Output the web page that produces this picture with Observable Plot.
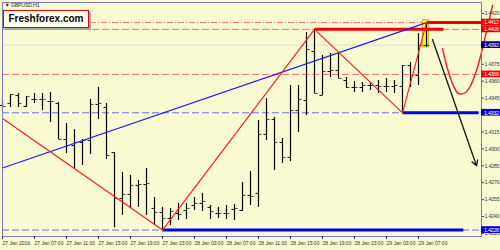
<!DOCTYPE html>
<html><head><meta charset="utf-8">
<script src="https://cdn.jsdelivr.net/npm/d3@7"></script>
<script src="https://cdn.jsdelivr.net/npm/@observablehq/plot@0.6"></script>
<style>
body{margin:0;background:#fafad2;}
#wrap{position:relative;width:500px;height:250px;overflow:hidden;}
#wrap svg{position:absolute;left:0;top:0;}
#wrap svg g[aria-label="y-axis tick label"] text, #wrap svg g[aria-label="text"] text{letter-spacing:-0.35px;}
#logo{position:absolute;z-index:2;left:3px;top:10px;width:84px;height:16px;border:1.5px solid #e00000;background:#fffff0;box-shadow:2px 2px 0 #a8a8a0;font:bold 10px "Liberation Sans",Arial,sans-serif;color:#000;line-height:16px;text-align:center;}
</style></head>
<body><div id="wrap"><div id="logo">Freshforex.com</div></div>
<script>
// Hourly OHLC bars of GBPUSD H1, first bar = 27 Jan 2016 03:00
const barOpen = [1.43385,1.43402,1.43473,1.43376,1.43438,1.43438,1.43420,1.43402,1.43083,1.43030,1.43057,1.43074,1.43394,1.43367,1.42968,1.42560,1.42596,1.42676,1.42684,1.42472,1.42436,1.42383,1.42427,1.42454,1.42498,1.42516,1.42481,1.42427,1.42427,1.42463,1.42454,1.42587,1.42605,1.43128,1.43261,1.43057,1.42924,1.43340,1.43429,1.43863,1.43473,1.43686,1.43695,1.43606,1.43544,1.43544,1.43562,1.43562,1.43553,1.43553,1.43553,1.43739,1.43651,1.43917];
const barHigh = [1.43438,1.43482,1.43491,1.43465,1.43491,1.43491,1.43500,1.43411,1.43225,1.43172,1.43083,1.43438,1.43544,1.43402,1.42968,1.42791,1.42764,1.42720,1.42826,1.42569,1.42481,1.42472,1.42516,1.42516,1.42569,1.42605,1.42498,1.42481,1.42498,1.42507,1.42702,1.42800,1.43252,1.43447,1.43278,1.43092,1.43562,1.43562,1.44032,1.44060,1.43828,1.43846,1.43855,1.43633,1.43598,1.43589,1.43589,1.43606,1.43624,1.43606,1.43739,1.43766,1.44023,1.44120];
const barLow = [1.43367,1.43367,1.43367,1.43367,1.43402,1.43340,1.43234,1.43083,1.42959,1.42826,1.42853,1.42950,1.43261,1.42906,1.42300,1.42410,1.42472,1.42481,1.42410,1.42321,1.42280,1.42321,1.42365,1.42374,1.42454,1.42445,1.42374,1.42383,1.42374,1.42365,1.42445,1.42498,1.42481,1.43074,1.42809,1.42871,1.42888,1.43145,1.43296,1.43491,1.43473,1.43633,1.43624,1.43535,1.43500,1.43500,1.43518,1.43491,1.43500,1.43491,1.43320,1.43544,1.43562,1.43900];
const barClose = [1.43376,1.43482,1.43402,1.43465,1.43438,1.43438,1.43420,1.43083,1.43030,1.43057,1.43074,1.43394,1.43402,1.42941,1.42560,1.42596,1.42676,1.42684,1.42693,1.42436,1.42383,1.42445,1.42418,1.42472,1.42516,1.42534,1.42445,1.42427,1.42427,1.42472,1.42587,1.42578,1.43128,1.43261,1.43057,1.42924,1.43340,1.43438,1.43881,1.43491,1.43686,1.43695,1.43624,1.43544,1.43544,1.43562,1.43562,1.43553,1.43553,1.43562,1.43739,1.43651,1.43917,1.43920];

// time axis (bar index of each label)
const xTickBars = [0,4,8,12,16,20,24,28,32,36,40,44,48,52];
const xTickLabels = ["27 Jan 2016","27 Jan 07:00","27 Jan 11:00","27 Jan 15:00","27 Jan 19:00","27 Jan 23:00","28 Jan 03:00","28 Jan 07:00","28 Jan 11:00","28 Jan 15:00","28 Jan 19:00","28 Jan 23:00","29 Jan 03:00","29 Jan 07:00"];
// price ticks that stay visible (others are hidden behind the level labels)
const yTicks = [1.4225,1.4240,1.4255,1.4270,1.4285,1.4300,1.4315,1.4345,1.4360,1.4375,1.4420];
const visibleBars = [0, 59.875];
const visiblePrice = [1.42223, 1.44298];

// analysis objects
const zigzagBar = [0,20,39,50,53];
const zigzagPrice = [1.4327,1.4228,1.4406,1.4332,1.4412];
const trendBar = [0,53];
const trendPrice = [1.4283,1.4412];
const levelPrice = [1.4412,1.4406,1.4366,1.4332,1.4228];
const levelKind = ["res","res","res","sup","sup"];
const levelDash = ["dashdot","dash","dash","dash","dash"];
const bidPrice = 1.4392;
const segPrice = [1.4406,1.4412,1.4332,1.4228];
const segFrom = [39,53,50,20];
const segTo = [55.1,59.875,59.5,57.6];
const segKind = ["res","res","sup","sup"];
const highlightBar = [52.55,53.3];
const highlightPrice = [1.4390,1.4414];
const arrowBar = [53.75,59.25];
const arrowPrice = [1.4397,1.4285];
const curveBar = [55,55.625,56.25,57,57.875,58.5,59.25,59.875,60.375,60.875,61.25];
const curvePrice = [1.4389,1.4371,1.4358,1.4349,1.4350,1.4356,1.43695,1.43855,1.44005,1.44156,1.44271];
const labelPrice = [1.4412,1.4406,1.4392,1.4366,1.4332,1.4228];
const labelKind = ["res","res","bid","res","sup","sup"];

const bars = barOpen.map((o,i)=>({k:i, open:o, high:barHigh[i], low:barLow[i], close:barClose[i]}));
const zigzag = zigzagBar.map((k,i)=>({k, p:zigzagPrice[i]}));
const trend = trendBar.map((k,i)=>({k, p:trendPrice[i]}));
const levels = levelPrice.map((p,i)=>({p, kind:levelKind[i], dash:levelDash[i]}));
const segs = segPrice.map((p,i)=>({p, k1:segFrom[i], k2:segTo[i], kind:segKind[i]}));
const curve = curveBar.map((k,i)=>({k, p:curvePrice[i]}));
const labels = labelPrice.map((p,i)=>({p, kind:labelKind[i]}));
const tickLabelOf = new Map(xTickBars.map((k,i)=>[k, xTickLabels[i]]));

const lineColor = {res:"#f07070", sup:"#6c6cec"};
const segColor = {res:"#ee0000", sup:"#0000e0"};
const labelColor = {res:"#ee0000", sup:"#0000e8", bid:"#000080"};
const fmt = d3.format(".4f");
const halfBox = 0.0003;
const tickLen = 0.375;

const chart = Plot.plot({
  width: 500, height: 250,
  marginLeft: 2, marginRight: 19, marginTop: 2, marginBottom: 14,
  style: {fontFamily: "'Liberation Sans', Arial, sans-serif", background: "#fafad2", color: "#33334a", overflow: "visible"},
  x: {type: "linear", domain: visibleBars, axis: null},
  y: {domain: visiblePrice, axis: null},
  color: {type: "identity"},
  marks: [
    Plot.ruleY([bidPrice], {stroke: "#dcdcd4", strokeWidth: 1}),
    Plot.ruleY(levels.filter(d=>d.dash==="dash"), {y: "p", stroke: d=>lineColor[d.kind], strokeDasharray: "7,3"}),
    Plot.ruleY(levels.filter(d=>d.dash==="dashdot"), {y: "p", stroke: d=>lineColor[d.kind], strokeDasharray: "6,2,1,2"}),
    Plot.rect([0], {x1: highlightBar[0], x2: highlightBar[1], y1: highlightPrice[0], y2: highlightPrice[1], fill: "#ffff3c", stroke: "#c8b000", strokeWidth: 1}),
    Plot.ruleX(bars, {x: "k", y1: "low", y2: "high", stroke: "#000", strokeWidth: 1.2}),
    Plot.link(bars, {x1: d=>d.k - tickLen, x2: "k", y1: "open", y2: "open", stroke: "#111", strokeWidth: 1}),
    Plot.link(bars, {x1: "k", x2: d=>d.k + tickLen, y1: "close", y2: "close", stroke: "#444", strokeWidth: 1}),
    Plot.link(segs, {x1: "k1", x2: "k2", y1: "p", y2: "p", stroke: d=>segColor[d.kind], strokeWidth: 3}),
    Plot.line(trend, {x: "k", y: "p", stroke: "#1c1cf0", strokeWidth: 1.2}),
    Plot.line(zigzag, {x: "k", y: "p", stroke: "#ff1a1a", strokeWidth: 1.1}),
    Plot.arrow([0], {x1: arrowBar[0], y1: arrowPrice[0], x2: arrowBar[1], y2: arrowPrice[1], stroke: "#151515", strokeWidth: 1.3, headLength: 7}),
    Plot.line(curve, {x: "k", y: "p", stroke: "#f01c1c", strokeWidth: 1.4, curve: "catmull-rom"}),
    Plot.frame({stroke: "#7a7ac4"}),
    Plot.axisY({anchor: "right", ticks: yTicks, tickFormat: fmt, tickSize: 2, tickPadding: 1, fontSize: 5.5, label: null, color: "#3a3a55"}),
    Plot.axisX({anchor: "bottom", ticks: xTickBars, tickFormat: d=>tickLabelOf.get(d), textAnchor: "start", tickSize: 3, tickPadding: 2, fontSize: 5, label: null, color: "#333"}),
    Plot.rect(labels, {x1: visibleBars[1], x2: visibleBars[1] + 3, y1: d=>d.p - halfBox, y2: d=>d.p + halfBox, fill: d=>labelColor[d.kind]}),
    Plot.text(labels, {x: visibleBars[1], y: "p", text: d=>fmt(d.p), dx: 2.5, textAnchor: "start", fill: "white", fontSize: 5.5}),
    Plot.text(["\u25BC GBPUSD,H1"], {frameAnchor: "top-left", dx: 2, dy: 1, lineAnchor: "top", textAnchor: "start", fontSize: 5.5, fill: "#333"})
  ]
});
document.getElementById("wrap").prepend(chart);
</script>
</body></html>
